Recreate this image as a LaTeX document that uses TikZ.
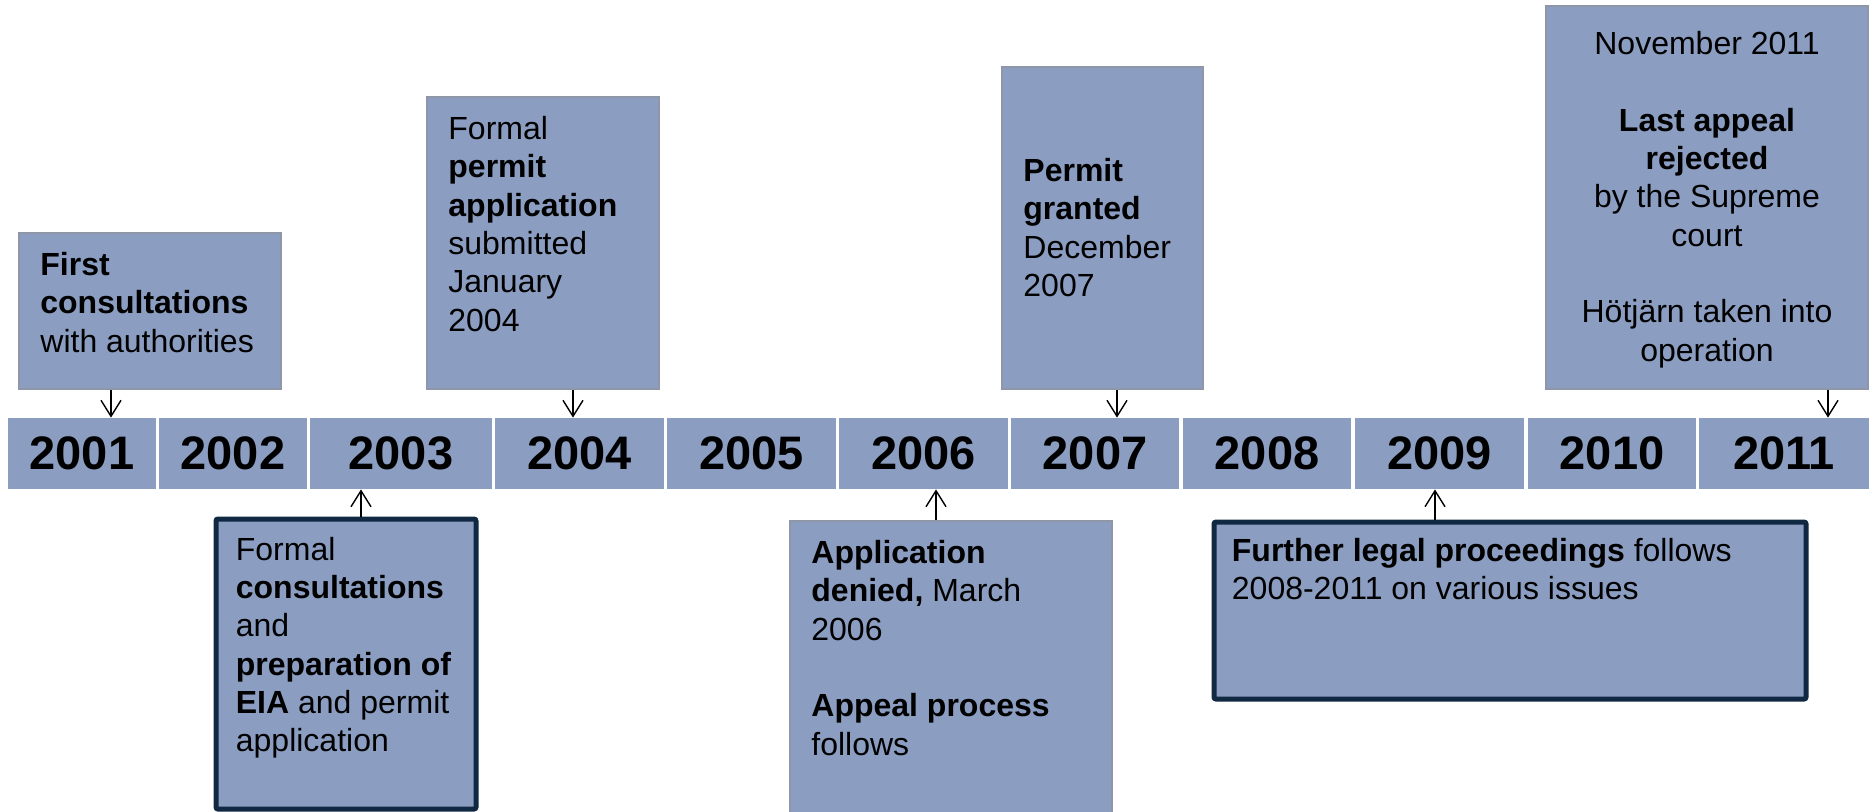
\documentclass[tikz,border=0pt]{standalone}
\usepackage{fontspec}
\setmainfont{Liberation Sans}
\usepackage{tikz}
\usetikzlibrary{positioning,arrows.meta}

\definecolor{tlblue}{RGB}{139,158,194}
\definecolor{boxgray}{RGB}{142,150,168}
\definecolor{keynavy}{RGB}{16,40,66}

\begin{document}
\begin{tikzpicture}[x=0.5pt,y=-0.5pt,
    yearbox/.style={fill=tlblue,minimum height=35.5pt,inner sep=0pt,font=\fontsize{23.5pt}{28pt}\selectfont\bfseries},
    evbox/.style={fill=tlblue,draw=boxgray,line width=1pt,inner sep=0pt},
    keybox/.style={fill=tlblue,draw=keynavy,line width=2.5pt,rounded corners=1pt,inner sep=0pt},
    evtext/.style={inner sep=0pt,align=left,font=\fontsize{16pt}{19.15pt}\selectfont},
    evarrow/.style={-{Straight Barb[length=8pt,width=10pt]},line width=0.7pt}]

    \useasboundingbox (0,0) rectangle (1872,811);

    % The time line
    \foreach \yr/\xl/\xr in {2001/8/156, 2002/159/307, 2003/310/492, 2004/495/664,
        2005/667/836, 2006/839/1008, 2007/1011/1179, 2008/1183/1351,
        2009/1355/1524, 2010/1528/1696, 2011/1699/1869}
        \node [yearbox,minimum width={(\xr-\xl)*0.5pt}] at ({(\xl+\xr)/2},453.5) (y\yr) {\yr};

    % Events above
    \node [evbox,minimum width=131pt,minimum height=78pt] at (150,311) (boxA) {};
    \node [evtext,below right=10pt and 11pt of boxA.north west] (txtA)
        {\textbf{First}\\ \textbf{consultations}\\ with authorities};

    \node [evbox,minimum width=116pt,minimum height=146pt] at (543,243) (boxB) {};
    \node [evtext,below right=10pt and 11pt of boxB.north west] (txtB)
        {Formal\\ \textbf{permit}\\ \textbf{application}\\ submitted\\ January\\ 2004};

    \node [evbox,minimum width=100.5pt,minimum height=161pt] at (1102.5,228) (boxC) {};
    \node [evtext,below right=46pt and 11pt of boxC.north west] (txtC)
        {\textbf{Permit}\\ \textbf{granted}\\ December\\ 2007};

    \node [evbox,minimum width=161pt,minimum height=191.5pt] at (1707,197.5) (boxD) {};
    \node [evtext,align=center,below=13pt of boxD.north] (txtD)
        {November 2011\\[19.15pt] \textbf{Last appeal}\\ \textbf{rejected}\\ by the Supreme\\ court\\[19.15pt]
         Hötjärn taken into\\ operation};

    % Events below
    \node [keybox,minimum width=130pt,minimum height=145pt] at (346,664) (boxE) {};
    \node [evtext,below right=10pt and 11pt of boxE.north west] (txtE)
        {Formal\\ \textbf{consultations}\\ and\\ \textbf{preparation of}\\ \textbf{EIA} and permit\\ application};

    \node [evbox,minimum width=161pt,minimum height=154.5pt] at (951,675.5) (boxF) {};
    \node [evtext,below right=10pt and 11pt of boxF.north west] (txtF)
        {\textbf{Application}\\ \textbf{denied,} March\\ 2006\\[19.15pt] \textbf{Appeal process}\\ follows};

    \node [keybox,minimum width=296pt,minimum height=88.5pt] at (1510,610.5) (boxG) {};
    \node [evtext,below right=9pt and 10pt of boxG.north west] (txtG)
        {\textbf{Further legal proceedings} follows\\ 2008-2011 on various issues};

    % Arrows
    \coordinate (kA) at (111,0);
    \coordinate (kB) at (573,0);
    \coordinate (kC) at (1117,0);
    \coordinate (kD) at (1828,0);
    \coordinate (kE) at (361,0);
    \coordinate (kF) at (936,0);
    \coordinate (kG) at (1435,0);

    \draw [evarrow] (boxA.south -| kA) -- (y2001.north -| kA);
    \draw [evarrow] (boxB.south -| kB) -- (y2004.north -| kB);
    \draw [evarrow] (boxC.south -| kC) -- (y2007.north -| kC);
    \draw [evarrow] (boxD.south -| kD) -- (y2011.north -| kD);
    \draw [evarrow] (boxE.north -| kE) -- (y2003.south -| kE);
    \draw [evarrow] (boxF.north -| kF) -- (y2006.south -| kF);
    \draw [evarrow] (boxG.north -| kG) -- (y2009.south -| kG);

\end{tikzpicture}
\end{document}
